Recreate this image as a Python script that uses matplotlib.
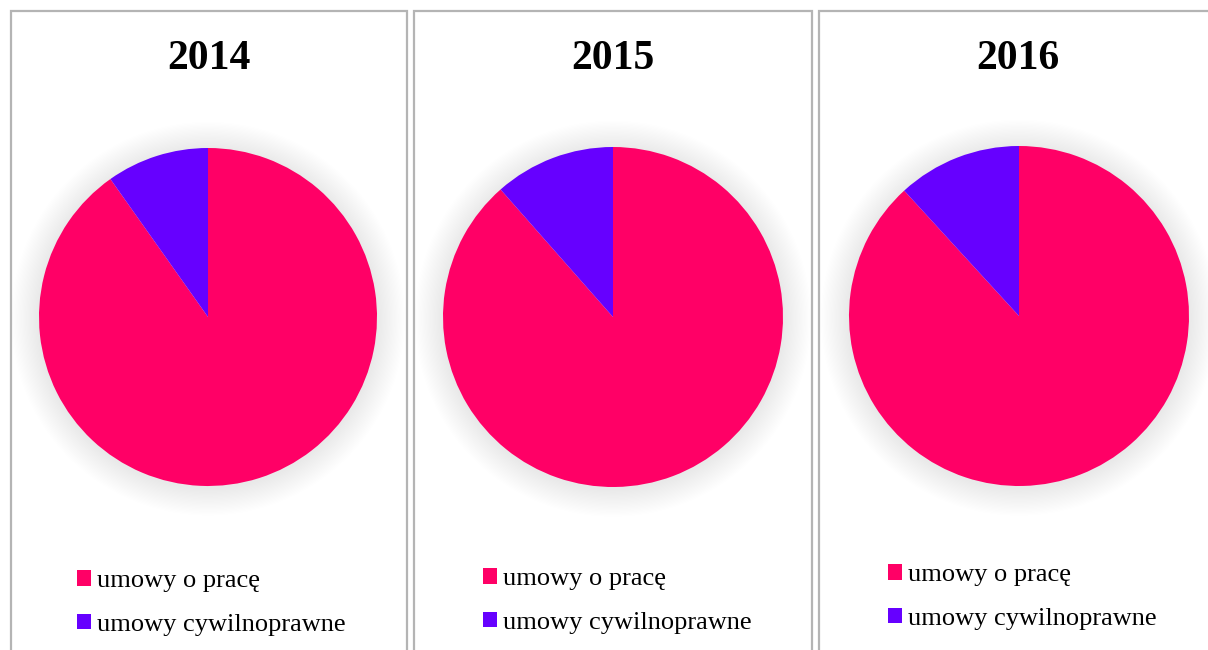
import matplotlib
matplotlib.use("Agg")
import matplotlib.pyplot as plt
from matplotlib.patches import Circle, Rectangle

years = ["2014", "2015", "2016"]
labels = ["umowy o pracę", "umowy cywilnoprawne"]
praca = [90.2, 88.5, 88.2]
cywil = [9.8, 11.5, 11.8]
colors = ["#ff0066", "#6600ff"]

W, H = 1208, 650
plt.rcParams["font.family"] = ["Liberation Serif", "DejaVu Serif"]

fig = plt.figure(figsize=(W / 100, H / 100), dpi=100)

# panel frames (left, right) in pixels, pie centre, legend anchor
panels = [
    dict(x0=11, x1=407, cx=208, cy=317, r=169, lx=77, ly=570),
    dict(x0=414, x1=812, cx=613, cy=317, r=170, lx=483, ly=568),
    dict(x0=819, x1=1216, cx=1019, cy=316, r=170, lx=888, ly=564),
]

for p in panels:
    fig.patches.append(Rectangle((p["x0"] / W, -0.05), (p["x1"] - p["x0"]) / W,
                                 1.05 - 11 / H, transform=fig.transFigure,
                                 fill=False, ec="#b4b4b4", lw=1.6))

for i, p in enumerate(panels):
    half = p["r"] * 1.25
    ax = fig.add_axes([(p["cx"] - half) / W, (H - p["cy"] - half) / H,
                       2 * half / W, 2 * half / H])
    ax.set_xlim(-1.25, 1.25)
    ax.set_ylim(-1.25, 1.25)
    ax.set_aspect("equal")
    ax.axis("off")
    # soft glow shadow
    for k in range(22, 0, -1):
        ax.add_patch(Circle((0, -0.01), 1 + k * 0.0075, color="#000000",
                            alpha=0.0055, lw=0, zorder=0))
    wedges, _ = ax.pie([praca[i], cywil[i]], colors=colors, startangle=90,
                       counterclock=False, radius=1.0,
                       wedgeprops=dict(lw=0), normalize=True)
    for w in wedges:
        w.set_zorder(2)
    fig.text((p["x0"] + p["x1"]) / 2 / W, 1 - 59 / H, years[i], ha="center",
             va="center", fontsize=30, fontweight="bold")
    fig.legend(wedges, labels, loc="upper left",
               bbox_to_anchor=(p["lx"] / W, 1 - p["ly"] / H),
               frameon=False, fontsize=19, handlelength=0.53, handleheight=0.53,
               handletextpad=0.23, labelspacing=0.81, borderpad=0,
               borderaxespad=0)

fig.savefig("out.png", dpi=100)
